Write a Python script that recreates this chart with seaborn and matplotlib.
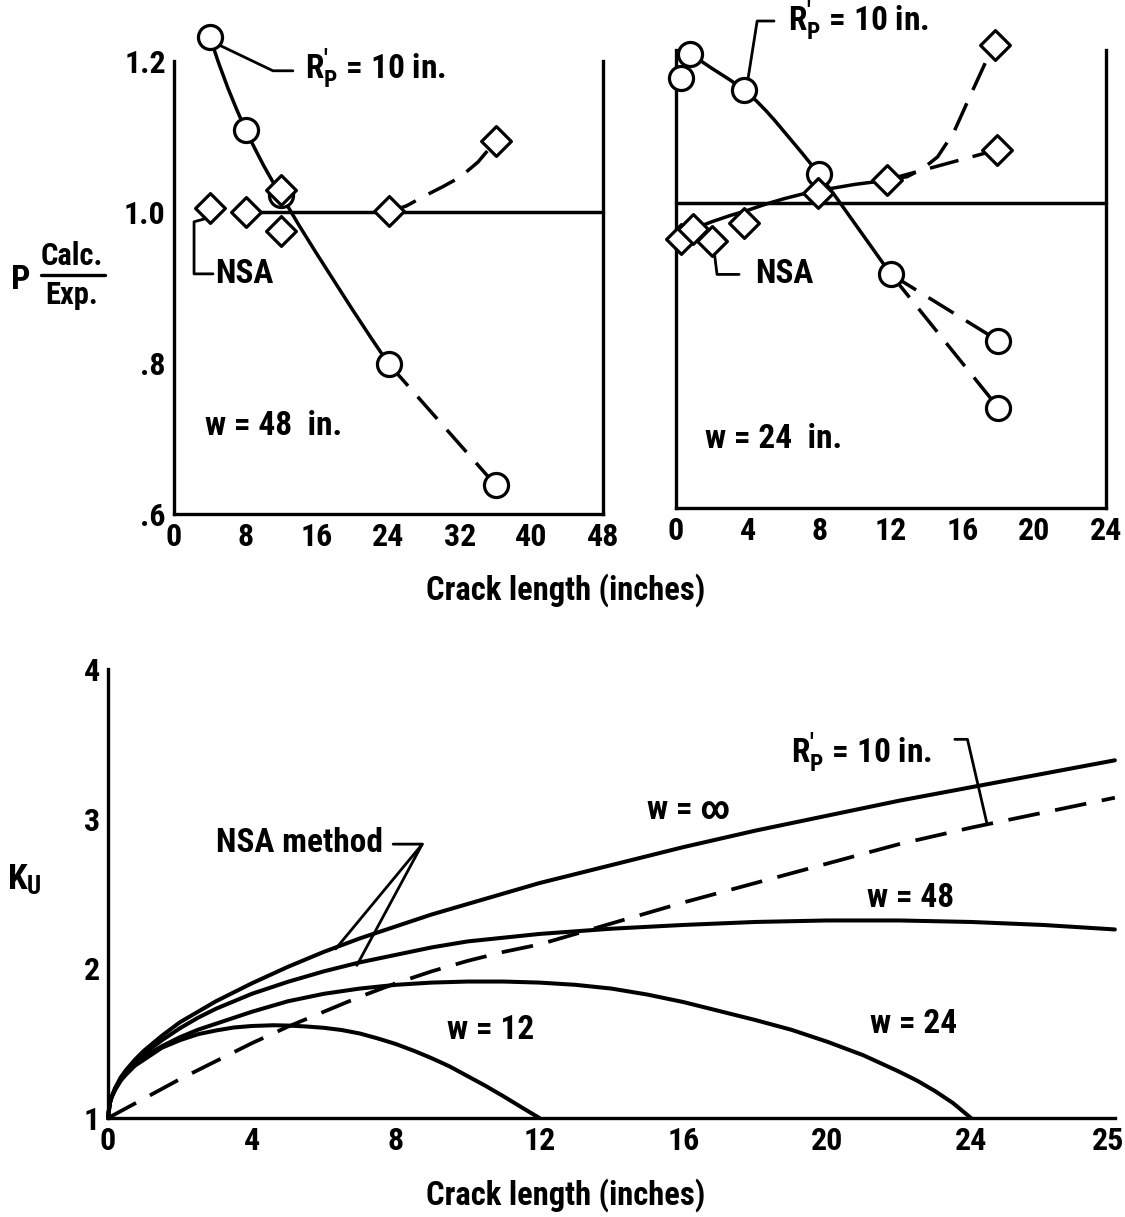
import os
import matplotlib
matplotlib.use("Agg")
import matplotlib.pyplot as plt
import matplotlib.lines as mlines
import matplotlib.transforms as mtrans
from matplotlib import font_manager as fm
import seaborn as sns
import pandas as pd

# ---------------- data: top-left panel (w = 48 in.) ----------------
l_circ_x = [4, 8, 12, 24, 36]
l_circ_y = [1.232, 1.109, 1.022, 0.799, 0.638]
l_diam_x = [4, 8, 12, 12, 24, 36]
l_diam_y = [1.005, 1.000, 1.029, 0.975, 1.001, 1.094]
l_rp_solid_x = [4, 5, 6, 7, 8, 9, 10, 11, 12, 14, 16, 18, 20, 22, 24]
l_rp_solid_y = [1.232, 1.197, 1.165, 1.136, 1.109, 1.085, 1.062, 1.041, 1.022, 0.982, 0.944,
                0.907, 0.870, 0.834, 0.799]
l_rp_dash_x = [24, 36]
l_rp_dash_y = [0.799, 0.638]
l_nsa_solid_x = [8, 48]
l_nsa_solid_y = [1.0, 1.0]
l_nsa_dash_x = [24, 26, 28, 30, 32, 34, 36]
l_nsa_dash_y = [1.0, 1.008, 1.021, 1.033, 1.046, 1.066, 1.094]

# ---------------- data: top-right panel (w = 24 in.) ----------------
r_circ_x = [0.3, 0.8, 3.8, 8, 12, 18, 18]
r_circ_y = [1.163, 1.195, 1.148, 1.037, 0.906, 0.819, 0.731]
r_diam_x = [0.3, 0.95, 2.0, 3.8, 7.9, 11.8, 17.8, 17.9]
r_diam_y = [0.952, 0.966, 0.950, 0.974, 1.013, 1.030, 1.207, 1.069]
r_rp_solid_x = [0.8, 2, 3, 3.8, 4.5, 5, 5.5, 6, 6.5, 7, 8, 9, 10, 11, 12]
r_rp_solid_y = [1.195, 1.176, 1.161, 1.148, 1.133, 1.121, 1.108, 1.094, 1.080, 1.066, 1.037,
                1.005, 0.972, 0.939, 0.906]
r_rp_dash1_x = [12, 18]
r_rp_dash1_y = [0.906, 0.819]
r_rp_dash2_x = [12, 18]
r_rp_dash2_y = [0.906, 0.731]
r_nsa_solid_x = [0, 1, 2, 3, 4, 5, 6, 7, 8, 9, 10, 11, 11.8]
r_nsa_solid_y = [0.955, 0.966, 0.975, 0.983, 0.990, 0.998, 1.005, 1.011, 1.016, 1.020, 1.024,
                 1.027, 1.030]
r_nsa_dash1_x = [11.8, 12.9, 13.8, 14.6, 15.5, 16.4, 17.3, 17.8]
r_nsa_dash1_y = [1.030, 1.034, 1.045, 1.060, 1.092, 1.139, 1.185, 1.207]
r_nsa_dash2_x = [11.8, 17.9]
r_nsa_dash2_y = [1.030, 1.069]
r_ref_x = [0, 24]
r_ref_y = [1.0, 1.0]

# ---------------- data: bottom panel (K_u vs crack length) ----------------
winf_x = [0, 0.05, 0.1, 0.2, 0.35, 0.5, 0.75, 1, 1.5, 2, 2.5, 3, 4, 5, 6, 7, 8, 9, 10, 12, 14,
          16, 18, 20, 22, 24, 26, 28]
winf_y = [1.0, 1.10, 1.14, 1.20, 1.27, 1.32, 1.39, 1.45, 1.55, 1.64, 1.71, 1.78, 1.90, 2.01, 2.11,
          2.20, 2.28, 2.36, 2.43, 2.57, 2.69, 2.81, 2.92, 3.02, 3.12, 3.21, 3.30, 3.39]
w48_x = [0, 0.05, 0.1, 0.2, 0.35, 0.5, 0.75, 1, 1.5, 2, 2.5, 3, 4, 5, 6, 7, 8, 9, 10, 12, 14,
         16, 18, 20, 22, 24, 26, 28]
w48_y = [1.0, 1.10, 1.14, 1.20, 1.26, 1.31, 1.38, 1.43, 1.52, 1.60, 1.67, 1.73, 1.83, 1.91, 1.98,
         2.04, 2.09, 2.14, 2.18, 2.23, 2.265, 2.29, 2.31, 2.32, 2.32, 2.31, 2.29, 2.26]
w24_x = [0, 0.05, 0.1, 0.2, 0.35, 0.5, 0.75, 1, 1.5, 2, 2.5, 3, 4, 5, 6, 7, 8, 9, 10, 11, 12,
         13, 14, 15, 16, 17, 18, 19, 20, 21, 22, 22.5, 23, 23.5, 24]
w24_y = [1.0, 1.10, 1.14, 1.19, 1.25, 1.30, 1.36, 1.41, 1.48, 1.54, 1.59, 1.63, 1.71, 1.78, 1.83,
         1.865, 1.89, 1.905, 1.912, 1.912, 1.905, 1.89, 1.865, 1.825, 1.775, 1.715, 1.655, 1.59,
         1.51, 1.42, 1.31, 1.25, 1.18, 1.10, 1.0]
w12_x = [0, 0.05, 0.1, 0.2, 0.35, 0.5, 0.75, 1, 1.5, 2, 2.5, 3, 3.5, 4, 4.6, 5, 5.5, 6, 6.5, 7,
         7.5, 8, 8.5, 9, 9.5, 10, 10.5, 11, 11.5, 12]
w12_y = [1.0, 1.10, 1.14, 1.19, 1.25, 1.29, 1.35, 1.39, 1.47, 1.52, 1.56, 1.585, 1.605, 1.615, 1.62,
         1.618, 1.612, 1.603, 1.588, 1.565, 1.532, 1.495, 1.45, 1.40, 1.345, 1.28, 1.215, 1.145,
         1.072, 1.0]
rp_x = [0, 1, 2, 3, 4, 5, 6, 7, 8, 9, 10, 11, 12, 14, 16, 18, 20, 22, 24, 26, 28]
rp_y = [1.0, 1.13, 1.26, 1.38, 1.50, 1.61, 1.71, 1.81, 1.90, 1.98, 2.05, 2.11, 2.16, 2.30, 2.44,
        2.57, 2.70, 2.83, 2.94, 3.04, 3.14]

# tick labels
tl_xticks = [0, 8, 16, 24, 32, 40, 48]
tl_yticks = [0.6, 0.8, 1.0, 1.2]
tl_ylabels = [".6", ".8", "1.0", "1.2"]
tr_xticks = [0, 4, 8, 12, 16, 20, 24]
b_xticks = [0, 4, 8, 12, 16, 20, 24, 28]
b_xlabels = ["0", "4", "8", "12", "16", "20", "24", "25"]
b_yticks = [1, 2, 3, 4]


# ---------------- font: prefer a narrow / condensed bold sans ----------------
def pick_font():
    names = {f.name for f in fm.fontManager.ttflist}
    for p in ["Liberation Sans Narrow", "DejaVu Sans Condensed", "Roboto Condensed",
              "Noto Sans Condensed", "Open Sans Condensed", "Arial Narrow"]:
        if p in names:
            return p, "normal", True
    for f in fm.fontManager.ttflist:
        fn = os.path.basename(f.fname).lower()
        if ("condensed" in fn or "narrow" in fn) and "extra" not in fn and "semi" not in fn \
                and "ultra" not in fn and "bold" in fn:
            return f.name, "condensed", True
    return "DejaVu Sans", "normal", False


FONT, STRETCH, NARROW = pick_font()

sns.set_theme(style="white")
plt.rcParams["font.family"] = [FONT, "DejaVu Sans"]
plt.rcParams["font.stretch"] = STRETCH
plt.rcParams["font.weight"] = "bold"
plt.rcParams["text.color"] = "black"
plt.rcParams["mathtext.default"] = "regular"
plt.rcParams["axes.linewidth"] = 2.4
plt.rcParams["axes.edgecolor"] = "black"

K = "black"
LW = 2.5
DASH = (0, (8.5, 4.2))
FS_TICK = 23 if NARROW else 18
FS_TXT = 24 if NARROW else 17
FS_LAB = 23.5 if NARROW else 18

fig = plt.figure(figsize=(11.25, 12.17), dpi=100)
fig.patch.set_facecolor("white")


def line(ax, xs, ys, dashed=False, lw=LW):
    sns.lineplot(x=xs, y=ys, ax=ax, color=K, lw=lw, sort=False, estimator=None,
                 linestyle=DASH if dashed else "-", clip_on=False, zorder=3)


def marks(ax, xs, ys, kind):
    if kind == "o":
        sns.scatterplot(x=xs, y=ys, ax=ax, marker="o", s=300, facecolor="white",
                        edgecolor=K, linewidth=2.3, zorder=5, clip_on=False)
    else:
        sns.scatterplot(x=xs, y=ys, ax=ax, marker="D", s=230, facecolor="white",
                        edgecolor=K, linewidth=2.3, zorder=5, clip_on=False)


def leader(ax, xs, ys):
    ax.add_line(mlines.Line2D(xs, ys, color=K, lw=2.0, clip_on=False, zorder=4))


def txt(ax, x, y, s, size=None):
    ax.text(x, y, s, fontsize=size or FS_TXT, fontweight="bold", va="center", ha="left",
            color=K)


def style_axes(ax):
    ax.set_facecolor("white")
    ax.spines["top"].set_visible(False)
    for s in ax.spines.values():
        s.set_color(K)
        s.set_linewidth(2.4)
    ax.tick_params(direction="in", length=14, width=2.4, colors=K, labelsize=FS_TICK, pad=6)
    ax.grid(False)
    ax.set_xlabel("")
    ax.set_ylabel("")


RP = r"R$^{\prime}_{\mathregular{P}}$ = 10 in."

# ---------------- top-left ----------------
axL = fig.add_axes([0.1547, 0.5777, 0.3813, 0.3722])
line(axL, l_rp_solid_x, l_rp_solid_y)
line(axL, l_rp_dash_x, l_rp_dash_y, dashed=True)
line(axL, l_nsa_solid_x, l_nsa_solid_y)
line(axL, l_nsa_dash_x, l_nsa_dash_y, dashed=True)
marks(axL, l_circ_x, l_circ_y, "o")
marks(axL, l_diam_x, l_diam_y, "D")
style_axes(axL)
axL.set_xlim(0, 48)
axL.set_ylim(0.6, 1.2)
axL.set_xticks(tl_xticks)
axL.set_xticklabels([str(v) for v in tl_xticks])
axL.set_yticks(tl_yticks)
axL.set_yticklabels(tl_ylabels)
leader(axL, [4.36, 11.07, 13.3], [1.225, 1.187, 1.187])
txt(axL, 14.6, 1.19, RP)
leader(axL, [3.47, 2.24, 2.24, 4.36], [0.991, 0.987, 0.918, 0.918])
txt(axL, 4.6, 0.918, "NSA")
txt(axL, 3.5, 0.716, "w = 48  in.")

# ---------------- top-right ----------------
axR = fig.add_axes([0.6009, 0.5826, 0.3822, 0.3763])
line(axR, r_ref_x, r_ref_y)
line(axR, r_rp_solid_x, r_rp_solid_y)
line(axR, r_rp_dash1_x, r_rp_dash1_y, dashed=True)
line(axR, r_rp_dash2_x, r_rp_dash2_y, dashed=True)
line(axR, r_nsa_solid_x, r_nsa_solid_y)
line(axR, r_nsa_dash1_x, r_nsa_dash1_y, dashed=True)
line(axR, r_nsa_dash2_x, r_nsa_dash2_y, dashed=True)
marks(axR, r_circ_x, r_circ_y, "o")
marks(axR, r_diam_x, r_diam_y, "D")
style_axes(axR)
axR.set_xlim(0, 24)
axR.set_ylim(0.6, 1.2)
axR.set_xticks(tr_xticks)
axR.set_xticklabels([str(v) for v in tr_xticks])
axR.set_yticks([0.8])
axR.set_yticklabels([""])
leader(axR, [3.97, 4.53, 5.47], [1.155, 1.238, 1.238])
txt(axR, 6.26, 1.238, RP)
leader(axR, [2.12, 2.29, 3.52], [0.938, 0.906, 0.906])
txt(axR, 4.4, 0.906, "NSA")
txt(axR, 1.6, 0.69, "w = 24  in.")

# y label of top row
fig.text(0.018, 0.770, "P", fontsize=FS_LAB + 1, fontweight="bold", ha="center", va="center")
fig.text(0.064, 0.790, "Calc.", fontsize=FS_TXT - 2, fontweight="bold", ha="center", va="center")
fig.text(0.064, 0.758, "Exp.", fontsize=FS_TXT - 2, fontweight="bold", ha="center", va="center")
fig.add_artist(mlines.Line2D([0.036, 0.093], [0.774, 0.774], color=K, lw=2.4,
                             transform=fig.transFigure))
fig.text(0.503, 0.515, "Crack length (inches)", fontsize=FS_LAB, fontweight="bold",
         ha="center", va="center")

# ---------------- bottom ----------------
axB = fig.add_axes([0.096, 0.0813, 0.895, 0.369])
curves = pd.DataFrame({
    "x": winf_x + w48_x + w24_x + w12_x,
    "y": winf_y + w48_y + w24_y + w12_y,
    "w": (["inf"] * len(winf_x) + ["48"] * len(w48_x) + ["24"] * len(w24_x)
          + ["12"] * len(w12_x)),
})
sns.lineplot(data=curves, x="x", y="y", units="w", estimator=None, sort=False, color=K,
             lw=2.9, ax=axB, clip_on=False, zorder=3)
line(axB, rp_x, rp_y, dashed=True, lw=2.7)
style_axes(axB)
axB.spines["right"].set_visible(False)
axB.set_xlim(0, 28)
axB.set_ylim(1, 4)
axB.set_xticks(b_xticks)
axB.set_xticklabels(b_xlabels)
axB.set_yticks(b_yticks)
axB.set_yticklabels([str(v) for v in b_yticks])
last = axB.get_xticklabels()[-1]
last.set_horizontalalignment("right")
last.set_transform(last.get_transform() + mtrans.ScaledTranslation(9 / 100, 0, fig.dpi_scale_trans))
txt(axB, 19.0, 3.44, RP)
leader(axB, [23.55, 23.9, 24.45], [3.53, 3.53, 2.96])
txt(axB, 3.0, 2.84, "NSA method")
leader(axB, [7.93, 8.74, 6.33], [2.83, 2.83, 2.13])
leader(axB, [8.74, 6.92], [2.83, 2.02])
txt(axB, 15.0, 3.06, "w = ∞")
txt(axB, 21.1, 2.47, "w = 48")
txt(axB, 21.2, 1.63, "w = 24")
txt(axB, 9.44, 1.59, "w = 12")
fig.text(0.022, 0.277, r"K$_{\mathregular{U}}$", fontsize=FS_LAB + 2, fontweight="bold",
         ha="center", va="center")
fig.text(0.503, 0.018, "Crack length (inches)", fontsize=FS_LAB, fontweight="bold",
         ha="center", va="center")

fig.savefig("out.png", dpi=100, facecolor="white")
